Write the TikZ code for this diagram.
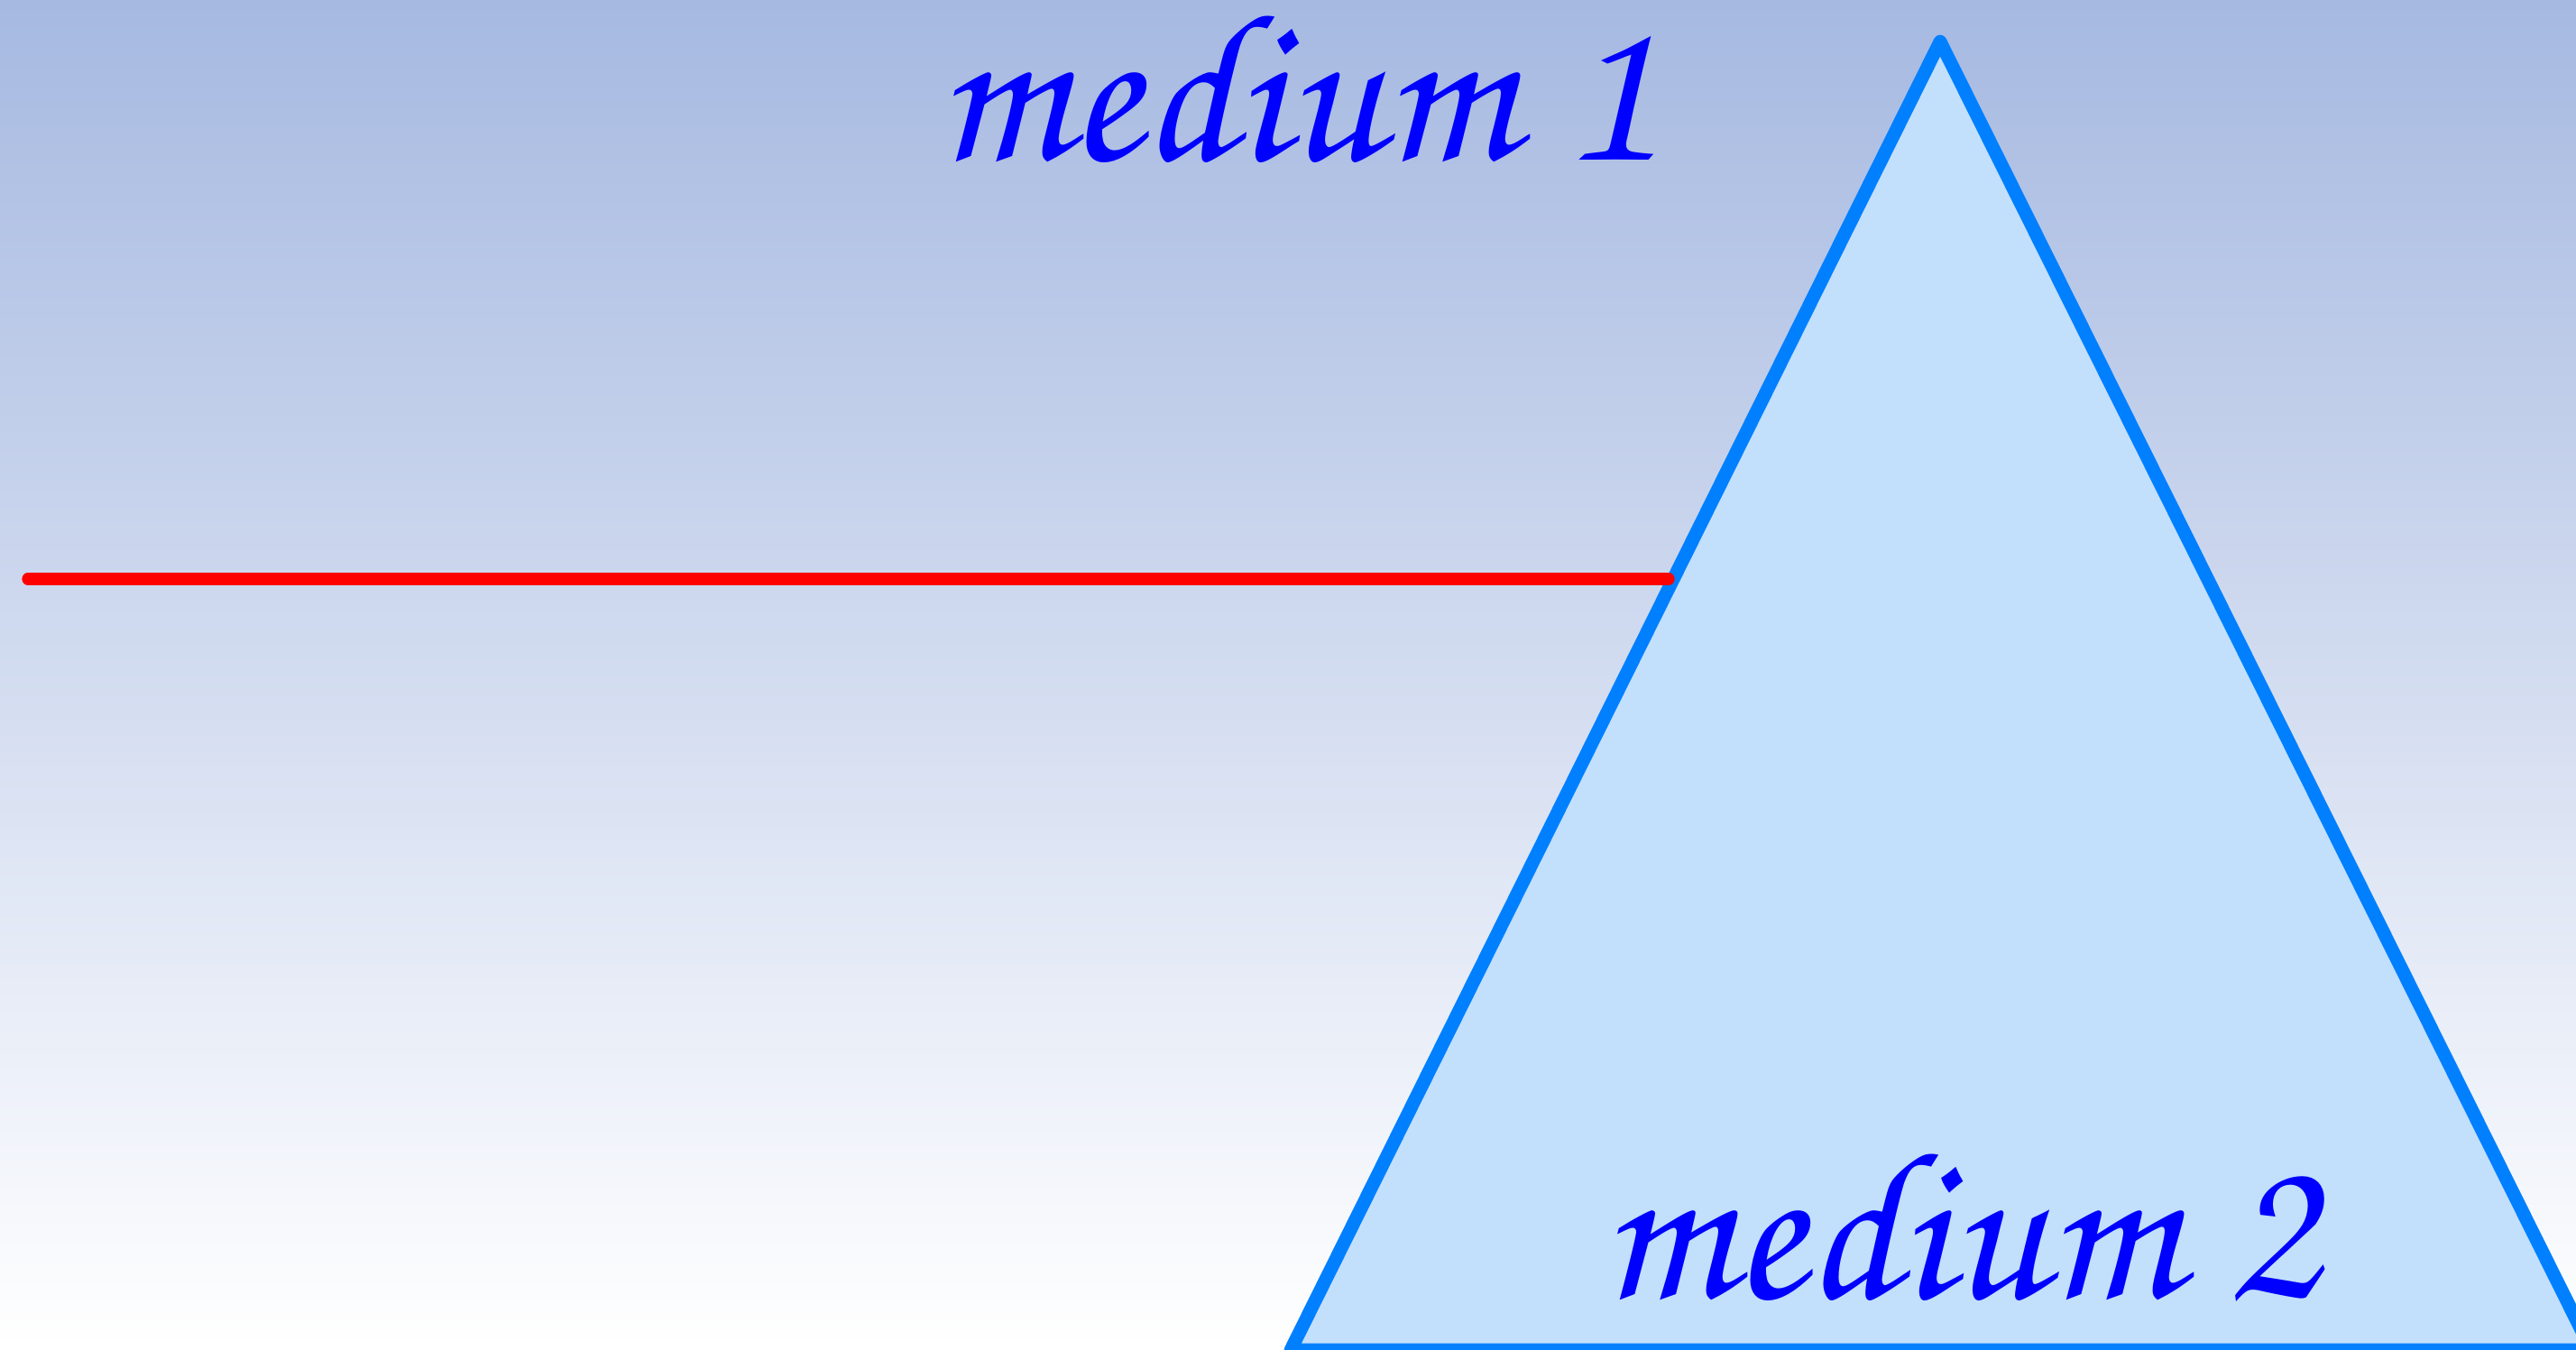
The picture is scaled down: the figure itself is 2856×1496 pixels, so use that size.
\documentclass[tikz,border=0pt]{standalone}
\usepackage[T1,TU]{fontenc}
\usetikzlibrary{positioning}
\definecolor{skytop}{RGB}{166,185,225}
\definecolor{skymid}{RGB}{229,234,247}
\definecolor{prismfill}{RGB}{194,223,252}
\definecolor{prismedge}{RGB}{0,128,255}
\definecolor{labelblue}{RGB}{0,0,255}
\newcommand{\handfont}{\fontencoding{T1}\fontfamily{pzc}\fontseries{mb}\fontshape{it}}

\begin{document}
\begin{tikzpicture}[x=0.01cm,y=-0.01cm,
      prism/.style={draw=prismedge,fill=prismfill,line width=4.2pt,line join=round},
      ray/.style={draw=red,line width=3.8pt,line cap=round},
      medlabel/.style={text=labelblue,inner sep=0pt,anchor=base,
                       font=\handfont\fontsize{67}{80}\selectfont}
    ]
    % background
    \shade[top color=skytop,middle color=skymid,bottom color=white] (0,0) rectangle (2856,1496);
    \useasboundingbox (0,0) rectangle (2856,1496);

    % prism
    \begin{scope}
      \clip (0,0) rectangle (2856,1496);
      \draw[prism] (2151,46) -- (1431,1497) -- (2873,1497) -- cycle;
    \end{scope}

    % incoming ray
    \coordinate (raystart) at (31,642);
    \coordinate (raystop) at (1850,642);
    \draw[ray] (raystart) -- (raystop);

    \node[medlabel] (mediumone) at (1437,177) {medium 1};
    \node[medlabel] (mediumtwo) at (2173,1439) {medium 2};
  \end{tikzpicture}
\end{document}
